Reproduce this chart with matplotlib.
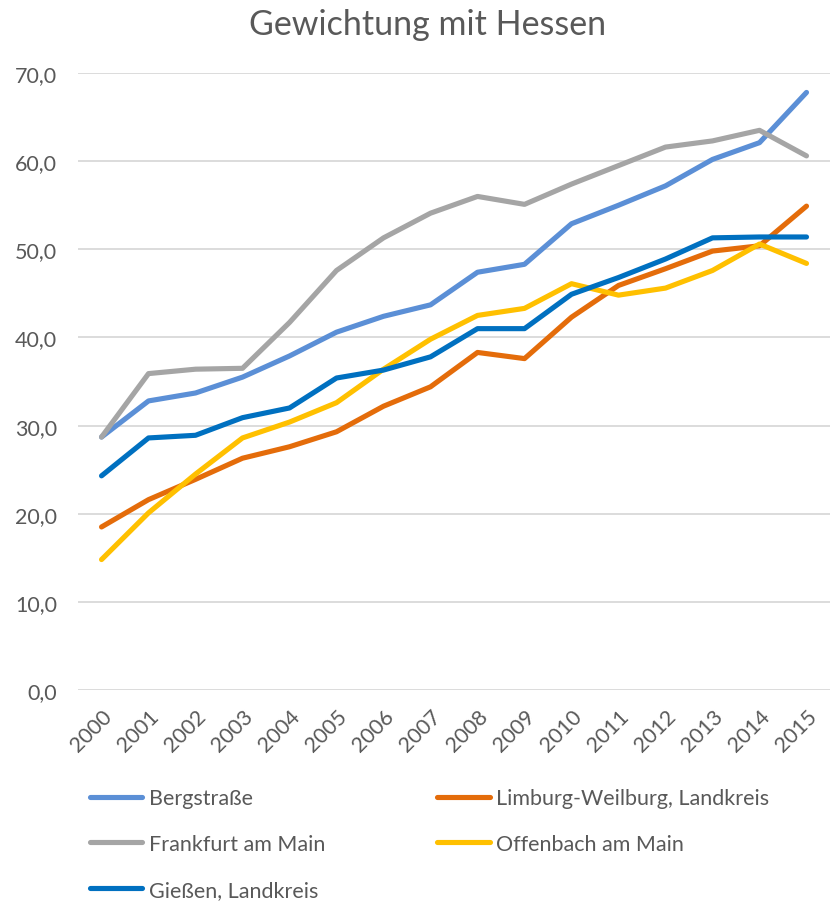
import matplotlib
matplotlib.use("Agg")
import matplotlib.pyplot as plt
from matplotlib.ticker import FuncFormatter

# Werte
years = [str(y) for y in range(2000, 2016)]
bergstrasse = [28.7, 32.8, 33.7, 35.5, 37.9, 40.6, 42.4, 43.7, 47.4, 48.3, 52.9, 55.0, 57.2, 60.2, 62.1, 67.8]
frankfurt = [28.7, 35.9, 36.4, 36.5, 41.7, 47.6, 51.3, 54.1, 56.0, 55.1, 57.4, 59.5, 61.6, 62.3, 63.5, 60.6]
giessen = [24.3, 28.6, 28.9, 30.9, 32.0, 35.4, 36.3, 37.8, 41.0, 41.0, 44.9, 46.8, 48.9, 51.3, 51.4, 51.4]
limburg = [18.5, 21.6, 23.9, 26.3, 27.6, 29.3, 32.2, 34.4, 38.3, 37.6, 42.3, 45.9, 47.8, 49.8, 50.4, 54.9]
offenbach = [14.8, 20.1, 24.5, 28.6, 30.4, 32.6, 36.4, 39.8, 42.5, 43.3, 46.1, 44.8, 45.6, 47.6, 50.6, 48.4]

plt.rcParams['font.family'] = ['Lato', 'DejaVu Sans']
txt = '#595959'

fig = plt.figure(figsize=(8.31, 9.04), dpi=100)
ax = fig.add_axes([0.0939, 0.2356, 0.9049, 0.6825])

x = range(len(years))
series = [
    ("Bergstraße", bergstrasse, "#5B8FD6"),
    ("Frankfurt am Main", frankfurt, "#A5A5A5"),
    ("Gießen, Landkreis", giessen, "#0070C0"),
    ("Limburg-Weilburg, Landkreis", limburg, "#E46C0A"),
    ("Offenbach am Main", offenbach, "#FFC000"),
]
# Zeichenreihenfolge wie im Original (Bergstraße zuerst, Gießen zuletzt)
order = [0, 3, 1, 4, 2]
handles = {}
for i in order:
    name, vals, col = series[i]
    h, = ax.plot(x, vals, color=col, lw=3.7, solid_capstyle='round',
                 solid_joinstyle='round', label=name)
    handles[i] = h

ax.set_xlim(-0.5, 15.5)
ax.set_ylim(0, 70)
ax.set_yticks(range(0, 71, 10))
ax.yaxis.set_major_formatter(FuncFormatter(lambda v, p: f"{v:.1f}".replace('.', ',')))
ax.set_xticks(list(x))
ax.set_xticklabels(years, rotation=45, ha='right', rotation_mode='anchor')
ax.grid(axis='y', color='#D9D9D9', lw=1.3)
ax.set_axisbelow(True)
for s in ax.spines.values():
    s.set_visible(False)
ax.tick_params(axis='y', length=0, pad=15, labelsize=15.5, labelcolor=txt)
ax.tick_params(axis='x', length=0, pad=11, labelsize=15.5, labelcolor=txt)

fig.suptitle("Gewichtung mit Hessen", x=0.515, y=0.99, va='top', fontsize=24.5, color=txt)

leg = fig.legend([handles[i] for i in range(5)], [s[0] for s in series],
                 loc='upper left', bbox_to_anchor=(0.108, 0.127), ncol=2,
                 frameon=False, fontsize=15.5, handlelength=2.45, handletextpad=0.3,
                 labelspacing=1.2, columnspacing=5.2, borderpad=0, borderaxespad=0)
for t in leg.get_texts():
    t.set_color(txt)

fig.savefig("out.png", dpi=100)
